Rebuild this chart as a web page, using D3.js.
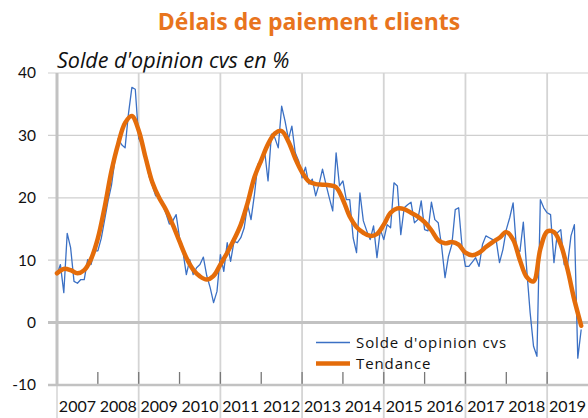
<!DOCTYPE html>
<html>
<head>
<meta charset="utf-8">
<script src="https://cdn.jsdelivr.net/npm/d3@7"></script>
<style>
  body { margin: 0; background: #fff; }
  svg { display: block; font-family: "Open Sans", Lato, sans-serif; }
  .num { font-family: Lato, "Open Sans", sans-serif; }
</style>
</head>
<body>
<svg id="chart" width="588" height="418"></svg>
<script>
const years = [2007, 2008, 2009, 2010, 2011, 2012, 2013, 2014, 2015, 2016, 2017, 2018, 2019]
const yTicks = [-10, 0, 10, 20, 30, 40]

// solde d'opinion cvs, mensuel, janv. 2007 -> nov. 2019
const solde = [
  7.7, 9.3, 4.8, 14.3, 12, 6.6, 6.3, 6.9, 6.9, 10.1, 9.3, 11.5,
  11.5, 13.5, 16.5, 19.5, 22, 26, 29.5, 28.5, 28, 33.5, 37.7, 37.4,
  29.5, 28.5, 26.5, 23.5, 22, 20.3, 20.3, 19, 17.5, 15.8, 16.3, 17.3,
  13.6, 11.4, 7.7, 10.1, 7.7, 8.8, 9.3, 10.5, 7.5, 5.6, 3.2, 5,
  10.9, 8.2, 12.8, 9.8, 13, 12.8, 13.6, 15.2, 18.9, 16.5, 20.5, 25.4,
  25.5, 27.5, 22.7, 30.2, 29.6, 28, 34.7, 32.3, 29.4, 31.5, 27.2, 25.9,
  23.2, 24.9, 22.2, 23, 20.3, 22.2, 24.6, 22.2, 20, 17.9, 27.2, 21.9,
  22.7, 19.7, 19.7, 13.6, 11.2, 20.8, 16.3, 14.7, 13.3, 15.5, 10.4, 14.9,
  13.3, 15.7, 15.2, 22.4, 21.9, 14.1, 18.4, 18.9, 19.3, 16, 16.5, 19.5,
  14.9, 14.7, 19.3, 16.5, 16, 12.2, 7.2, 10.6, 12.5, 18.1, 18.4, 12.2,
  9, 9, 9.7, 10.4, 9, 12.5, 13.9, 13.6, 13.3, 13.3, 9.6, 11.7,
  14.9, 16.8, 19.2, 11.7, 11.4, 16.1, 8.5, 1.6, -3.8, -5.4, 19.7, 18.4,
  17.6, 17.3, 9.6, 14.4, 14.9, 9.3, 9.3, 13.9, 15.7, -5.7, -1.1
]

// tendance, un point tous les deux mois
const tendance = [
  7.9, 8.6, 8.4, 7.9, 8.4, 10.2,
  13.5, 18.5, 24.3, 28.7, 32, 33.1,
  30.8, 26.5, 22.5, 20, 18.1, 15.7,
  13, 10.4, 8.5, 7.4, 6.9, 7.5,
  9.3, 11.2, 13.3, 15.7, 19.2, 23.3,
  26, 28.6, 30.3, 30.7, 29, 26.3,
  24.1, 22.6, 22.2, 22.1, 22, 21.7,
  19.7, 17, 15.3, 14.4, 13.9, 14.2,
  15.7, 17.6, 18.3, 18.2, 17.6, 17,
  16.1, 14.8, 13.2, 12.7, 12.9, 12.5,
  11.2, 10.8, 11.2, 12.1, 12.9, 13.6,
  14.5, 13.3, 10, 7.3, 6.6, 11.8,
  14.6, 14.5, 12.5, 8.5, 3.6, -0.5
]

const blue = '#3b70c4'
const orange = '#e46c0a'

const svg = d3.select('#chart')
const plot = { left: 57, right: 588, top: 73, bottom: 385 }

const x = d3.scaleLinear().domain([0, years.length * 12]).range([plot.left, plot.right])
const y = d3.scaleLinear().domain([-10, 40]).range([plot.bottom, plot.top])

svg.append('text')
  .attr('x', 309).attr('y', 30)
  .attr('text-anchor', 'middle')
  .attr('fill', '#e8741d')
  .style('font-size', '23px')
  .style('font-weight', 700)
  .text('Délais de paiement clients')

svg.append('text')
  .attr('x', 57).attr('y', 68)
  .style('font-size', '21.5px')
  .style('font-style', 'italic')
  .attr('fill', '#111')
  .text("Solde d'opinion cvs en %")

// grille horizontale
svg.append('g')
  .selectAll('line')
  .data(yTicks.filter(d => d > 0))
  .join('line')
  .attr('x1', 48).attr('x2', plot.right)
  .attr('y1', d => y(d)).attr('y2', d => y(d))
  .attr('stroke', '#cfcfcf')
  .attr('stroke-width', 1.2)

// grille verticale (tous les deux ans)
const gridYears = years.filter((d, i) => i % 2 === 0)
svg.append('g')
  .selectAll('line')
  .data(gridYears.slice(1))
  .join('line')
  .attr('x1', d => x((d - 2007) * 12)).attr('x2', d => x((d - 2007) * 12))
  .attr('y1', plot.top).attr('y2', 418)
  .attr('stroke', '#d4d4d4')
  .attr('stroke-width', 1.8)

svg.append('line')
  .attr('x1', plot.left).attr('x2', plot.left)
  .attr('y1', plot.bottom).attr('y2', 418)
  .attr('stroke', '#dcdcdc')
  .attr('stroke-width', 1.8)

// ticks annuels
svg.append('g')
  .selectAll('line')
  .data(years.slice(1))
  .join('line')
  .attr('x1', d => x((d - 2007) * 12)).attr('x2', d => x((d - 2007) * 12))
  .attr('y1', plot.bottom - 13).attr('y2', plot.bottom)
  .attr('stroke', '#777')
  .attr('stroke-width', 1.3)

// axes
svg.append('line')
  .attr('x1', 48).attr('x2', plot.right)
  .attr('y1', y(0)).attr('y2', y(0))
  .attr('stroke', '#c2c2c2')
  .attr('stroke-width', 3)
svg.append('line')
  .attr('x1', 48).attr('x2', plot.right)
  .attr('y1', y(-10)).attr('y2', y(-10))
  .attr('stroke', '#c2c2c2')
  .attr('stroke-width', 2.5)
svg.append('line')
  .attr('x1', plot.left).attr('x2', plot.left)
  .attr('y1', plot.top).attr('y2', plot.bottom + 1)
  .attr('stroke', '#c2c2c2')
  .attr('stroke-width', 3)

svg.append('g')
  .attr('class', 'num')
  .selectAll('text')
  .data(yTicks)
  .join('text')
  .attr('x', 36)
  .attr('y', d => y(d))
  .attr('dy', '0.35em')
  .attr('text-anchor', 'end')
  .attr('fill', '#111')
  .style('font-size', '15.5px')
  .text(d => d)

svg.append('g')
  .attr('class', 'num')
  .selectAll('text')
  .data(years)
  .join('text')
  .attr('x', d => x((d - 2007) * 12 + 6))
  .attr('y', 412)
  .attr('text-anchor', 'middle')
  .attr('fill', '#111')
  .style('font-size', '16px')
  .text(d => d)

// series
const lineSolde = d3.line()
  .x((d, i) => x(i))
  .y(d => y(d))

svg.append('path')
  .datum(solde)
  .attr('d', lineSolde)
  .attr('fill', 'none')
  .attr('stroke', blue)
  .attr('stroke-width', 1.3)
  .attr('stroke-linejoin', 'round')

const lineTendance = d3.line()
  .x((d, i) => x(i * 2))
  .y(d => y(d))
  .curve(d3.curveCatmullRom)

svg.append('path')
  .datum(tendance)
  .attr('d', lineTendance)
  .attr('fill', 'none')
  .attr('stroke', orange)
  .attr('stroke-width', 4.5)
  .attr('stroke-linecap', 'round')
  .attr('stroke-linejoin', 'round')

// legende
const legend = svg.append('g').attr('transform', 'translate(316,342.5)')
const items = [
  { label: "Solde d'opinion cvs", color: blue, width: 1.5 },
  { label: 'Tendance', color: orange, width: 4.5 }
]
const row = legend.selectAll('g')
  .data(items)
  .join('g')
  .attr('transform', (d, i) => `translate(0,${i * 21})`)
row.append('line')
  .attr('x1', 0).attr('x2', 34)
  .attr('stroke', d => d.color)
  .attr('stroke-width', d => d.width)
row.append('text')
  .attr('x', 40)
  .attr('dy', '0.35em')
  .attr('fill', '#111')
  .style('font-size', '15px')
  .style('letter-spacing', '0.9px')
  .text(d => d.label)
</script>
</body>
</html>
